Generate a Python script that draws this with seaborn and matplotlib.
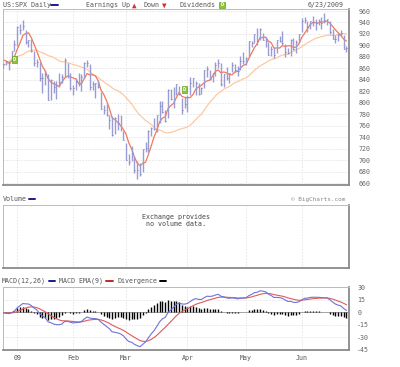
import numpy as np
import pandas as pd
import matplotlib
matplotlib.use("Agg")
import matplotlib.pyplot as plt
from matplotlib.lines import Line2D
import seaborn as sns

# ---------------- data ----------------
dates = ["2008-12-24", "2008-12-26", "2008-12-29", "2008-12-30", "2008-12-31",
         "2009-01-02", "2009-01-05", "2009-01-06", "2009-01-07", "2009-01-08", "2009-01-09",
         "2009-01-12", "2009-01-13", "2009-01-14", "2009-01-15", "2009-01-16",
         "2009-01-20", "2009-01-21", "2009-01-22", "2009-01-23",
         "2009-01-26", "2009-01-27", "2009-01-28", "2009-01-29", "2009-01-30",
         "2009-02-02", "2009-02-03", "2009-02-04", "2009-02-05", "2009-02-06",
         "2009-02-09", "2009-02-10", "2009-02-11", "2009-02-12", "2009-02-13",
         "2009-02-17", "2009-02-18", "2009-02-19", "2009-02-20",
         "2009-02-23", "2009-02-24", "2009-02-25", "2009-02-26", "2009-02-27",
         "2009-03-02", "2009-03-03", "2009-03-04", "2009-03-05", "2009-03-06",
         "2009-03-09", "2009-03-10", "2009-03-11", "2009-03-12", "2009-03-13",
         "2009-03-16", "2009-03-17", "2009-03-18", "2009-03-19", "2009-03-20",
         "2009-03-23", "2009-03-24", "2009-03-25", "2009-03-26", "2009-03-27",
         "2009-03-30", "2009-03-31",
         "2009-04-01", "2009-04-02", "2009-04-03",
         "2009-04-06", "2009-04-07", "2009-04-08", "2009-04-09",
         "2009-04-13", "2009-04-14", "2009-04-15", "2009-04-16", "2009-04-17",
         "2009-04-20", "2009-04-21", "2009-04-22", "2009-04-23", "2009-04-24",
         "2009-04-27", "2009-04-28", "2009-04-29", "2009-04-30",
         "2009-05-01", "2009-05-04", "2009-05-05", "2009-05-06", "2009-05-07", "2009-05-08",
         "2009-05-11", "2009-05-12", "2009-05-13", "2009-05-14", "2009-05-15",
         "2009-05-18", "2009-05-19", "2009-05-20", "2009-05-21", "2009-05-22",
         "2009-05-26", "2009-05-27", "2009-05-28", "2009-05-29",
         "2009-06-01", "2009-06-02", "2009-06-03", "2009-06-04", "2009-06-05",
         "2009-06-08", "2009-06-09", "2009-06-10", "2009-06-11", "2009-06-12",
         "2009-06-15", "2009-06-16", "2009-06-17", "2009-06-18", "2009-06-19",
         "2009-06-22", "2009-06-23"]

highs = [869.8, 873.7, 873.7, 891.1, 910.3,
         934.7, 936.6, 943.9, 927.5, 910.0, 911.9,
         890.4, 877.0, 871.8, 851.6, 858.1,
         849.6, 841.7, 838.2, 838.2,
         852.5, 850.5, 877.9, 868.9, 851.7,
         830.8, 842.6, 851.9, 850.6, 870.8,
         875.0, 868.1, 838.2, 835.5, 839.4,
         818.6, 796.2, 797.6, 778.7,
         777.9, 775.5, 780.1, 779.4, 751.3,
         729.6, 711.7, 724.1, 708.3, 699.1,
         695.3, 719.6, 731.9, 752.6, 758.3,
         774.5, 778.1, 803.0, 803.2, 788.1,
         823.4, 823.7, 826.8, 833.0, 828.7,
         809.1, 810.5,
         813.6, 845.6, 842.6,
         838.7, 835.5, 828.4, 856.9,
         864.3, 856.6, 852.9, 870.4, 875.6,
         869.6, 850.1, 861.8, 852.9, 871.8,
         868.3, 864.5, 882.1, 888.7,
         880.5, 907.9, 907.7, 920.3, 929.6, 930.2,
         922.0, 915.6, 905.4, 898.4, 897.0,
         910.0, 916.4, 924.6, 903.4, 896.3,
         911.8, 913.8, 909.5, 920.0,
         947.8, 949.4, 942.5, 942.5, 951.7,
         946.3, 946.3, 949.8, 956.2, 946.3,
         942.5, 928.0, 918.4, 921.9, 927.1,
         918.1, 898.7]

lows = [861.4, 866.5, 857.1, 870.6, 889.7,
        899.4, 919.5, 927.3, 902.4, 896.8, 888.3,
        864.3, 862.0, 838.6, 817.0, 830.7,
        804.5, 804.3, 817.1, 806.1,
        827.7, 835.4, 845.7, 844.2, 821.7,
        812.9, 822.0, 829.2, 819.9, 843.8,
        861.7, 823.0, 822.3, 808.1, 825.2,
        789.2, 780.4, 777.0, 754.3,
        742.4, 745.0, 752.9, 751.8, 734.5,
        699.7, 692.3, 699.0, 677.9, 666.8,
        672.9, 679.3, 713.9, 714.8, 742.5,
        753.4, 749.9, 765.6, 781.8, 766.2,
        772.9, 805.5, 791.4, 814.3, 813.4,
        779.8, 790.9,
        783.3, 814.5, 826.8,
        814.1, 814.0, 814.8, 826.3,
        845.4, 840.2, 835.6, 847.0, 860.9,
        829.8, 826.8, 840.6, 835.5, 853.9,
        853.0, 847.1, 856.9, 868.5,
        866.1, 879.2, 897.3, 904.0, 901.4, 909.0,
        908.7, 896.5, 882.8, 882.5, 878.9,
        886.1, 905.2, 901.4, 879.6, 884.8,
        881.5, 891.9, 887.6, 903.6,
        923.3, 938.5, 923.9, 929.3, 934.1,
        926.7, 935.7, 928.0, 939.0, 935.7,
        919.7, 911.6, 903.8, 907.9, 915.8,
        893.0, 888.9]

closes = [868.2, 872.8, 869.4, 890.6, 903.3,
          931.8, 927.5, 934.7, 906.7, 909.7, 890.4,
          870.3, 871.8, 842.6, 843.7, 850.1,
          805.2, 840.2, 827.5, 832.0,
          836.6, 845.7, 874.1, 845.1, 825.9,
          825.4, 838.5, 832.2, 845.9, 868.6,
          869.9, 827.2, 833.7, 835.2, 826.8,
          789.2, 788.4, 778.9, 770.1,
          743.3, 773.1, 764.9, 752.8, 735.1,
          700.8, 696.3, 712.9, 682.6, 683.4,
          676.5, 719.6, 721.4, 750.7, 756.6,
          753.9, 778.1, 794.4, 784.0, 768.5,
          822.9, 806.1, 813.9, 832.9, 815.9,
          787.5, 797.9,
          811.1, 834.4, 842.5,
          835.5, 815.6, 825.2, 856.6,
          858.7, 841.5, 852.1, 865.3, 869.6,
          832.4, 850.1, 843.6, 851.9, 866.2,
          857.5, 855.2, 873.6, 872.8,
          877.5, 907.2, 903.8, 919.5, 907.4, 929.2,
          909.2, 908.4, 883.9, 893.1, 882.9,
          909.7, 908.1, 903.5, 888.3, 887.0,
          910.3, 893.1, 906.8, 919.1,
          942.9, 944.7, 931.8, 942.5, 940.1,
          939.1, 942.4, 939.2, 944.9, 946.2,
          923.7, 912.0, 910.7, 918.4, 921.2,
          893.0, 895.1]

# closes before the visible window (only feed the moving averages / MACD)
warmup_closes = [1003.4, 998.0, 907.8, 946.4, 940.6, 985.4, 955.1, 896.8, 908.1,
                 876.8, 848.9, 940.5, 930.1, 954.1, 968.8,
                 966.3, 1005.8, 952.8, 904.9, 931.0, 919.2, 899.0, 852.3, 911.3,
                 873.3, 850.8, 859.1, 806.6, 752.4, 800.0, 851.8, 857.4, 887.7, 896.2,
                 816.2, 848.8, 870.7, 845.2, 876.1, 909.7, 888.7, 899.2, 873.6,
                 879.7, 868.6, 913.2, 904.4, 885.3, 887.9, 871.6, 863.2]

month_dates = ["2009-01-02", "2009-02-02", "2009-03-02", "2009-04-01", "2009-05-01", "2009-06-01"]
month_labels = ["09", "Feb", "Mar", "Apr", "May", "Jun"]
price_ticks = [660, 680, 700, 720, 740, 760, 780, 800, 820, 840, 860, 880, 900, 920, 940, 960]
macd_ticks = [30, 15, 0, -15, -30, -45]
macd_tick_labels = ["30", "15", "0", "-15", "-30", "-45"]
dividend_dates = ["2008-12-31", "2009-03-31"]
dividend_levels = [875, 823]

short_window = 5
long_window = 25

# ---------------- indicators ----------------
n = len(closes)
xs = np.arange(n)
full = pd.Series(warmup_closes + closes, dtype=float)
ma_short = full.rolling(short_window).mean().to_numpy()[-n:]
ma_long = full.rolling(long_window).mean().to_numpy()[-n:]
ema12 = full.ewm(span=12, adjust=True).mean()
ema26 = full.ewm(span=26, adjust=True).mean()
macd_full = ema12 - ema26
signal_full = macd_full.ewm(span=9, adjust=True).mean()
macd = macd_full.to_numpy()[-n:]
signal = signal_full.to_numpy()[-n:]
diverg = macd - signal

month_pos = [dates.index(d) for d in month_dates]

# ---------------- figure ----------------
sns.set_style("white")
plt.rcParams['font.family'] = ['DejaVu Sans Mono', 'DejaVu Sans']
W, H = 400, 367
fig = plt.figure(figsize=(W / 100, H / 100), dpi=100)
fig.patch.set_facecolor("white")

FS = 4.8
TXT = "#555555"


def px_axes(l, t, r, b):
    return fig.add_axes([l / W, 1 - b / H, (r - l) / W, (b - t) / H])


def style_box(ax):
    for s in ["left", "top"]:
        ax.spines[s].set_color("#bbbbbb")
        ax.spines[s].set_linewidth(0.7)
    for s in ["right", "bottom"]:
        ax.spines[s].set_color("#8a8a8a")
        ax.spines[s].set_linewidth(1.3)


def ftext(x, y, s, **kw):
    kw.setdefault("fontsize", FS)
    kw.setdefault("color", TXT)
    kw.setdefault("va", "center")
    fig.text(x / W, 1 - y / H, s, **kw)


def swatch(x1, x2, y, color, lw=1.4):
    fig.add_artist(Line2D([x1 / W, x2 / W], [1 - y / H, 1 - y / H],
                          transform=fig.transFigure, color=color, lw=lw))


XL = (-0.3, 123.9)
grid_kw = dict(color="#e4e4e4", lw=0.6, ls=(0, (2, 1.5)))

# ---- price panel ----
ax = px_axes(2.5, 9, 349, 185)
ax.set_xlim(*XL)
ax.set_ylim(657, 963.5)
ax.set_yticks(price_ticks)
ax.set_yticklabels([str(t) for t in price_ticks])
ax.set_xticks(month_pos)
ax.set_xticklabels([])
ax.tick_params(axis="y", labelleft=False, labelright=True, length=0, pad=7,
               labelsize=FS, labelcolor="#666666")
ax.tick_params(axis="x", length=0)
ax.grid(True, **grid_kw)
ax.set_axisbelow(True)
style_box(ax)

sns.lineplot(x=xs, y=ma_long, ax=ax, color="#fdc9a2", lw=0.9, legend=False)
sns.lineplot(x=xs, y=ma_short, ax=ax, color="#f2785a", lw=0.9, legend=False)
ax.vlines(xs, lows, highs, color="#9c9cd4", lw=1.0, zorder=3)
ax.hlines(closes, xs, xs + 0.35, color="#7a7ab8", lw=0.7, zorder=3)
for d, lv in zip(dividend_dates, dividend_levels):
    ax.text(dates.index(d), lv, "D", ha="center", va="center", fontsize=3.8,
            color="white", fontweight="bold", zorder=5,
            bbox=dict(boxstyle="square,pad=0.18", fc="#8cc43c", ec="#6b9e2a", lw=0.5))
ax.set_xlabel("")
ax.set_ylabel("")

# header
ftext(3, 5, "US:SPX Daily")
swatch(51, 58, 5, "#1a1a8c")
ftext(86, 5, "Earnings Up")
ftext(131.5, 5, "▲", color="#cc3333", fontsize=5.5)
ftext(144, 5, "Down")
ftext(161.5, 5, "▼", color="#cc3333", fontsize=5.5)
ftext(179, 5, "Dividends")
fig.text(222 / W, 1 - 5 / H, "D", ha="center", va="center", fontsize=3.8,
         color="white", fontweight="bold",
         bbox=dict(boxstyle="square,pad=0.18", fc="#8cc43c", ec="#6b9e2a", lw=0.5))
ftext(344, 5, "6/23/2009", ha="right")

# ---- volume panel ----
axv = px_axes(2.5, 204.5, 349, 267.5)
axv.set_xlim(*XL)
axv.set_ylim(0, 1)
axv.set_xticks(month_pos)
axv.set_xticklabels([])
axv.set_yticks([])
axv.tick_params(length=0)
axv.grid(True, axis="x", **grid_kw)
style_box(axv)
axv.text(0.5, 0.745, "Exchange provides\nno volume data.", transform=axv.transAxes,
         ha="center", va="center", fontsize=FS, color="#444444", linespacing=1.2)
ftext(3, 199, "Volume")
swatch(29, 35, 199, "#1a1a8c")
ftext(345, 199, "© BigCharts.com", ha="right", fontsize=4.3, color="#888888")

# ---- MACD panel ----
axm = px_axes(2.5, 287.3, 349, 350)
axm.set_xlim(*XL)
axm.set_ylim(-45.6, 30.0)
axm.set_yticks(macd_ticks)
axm.set_yticklabels(macd_tick_labels)
axm.set_xticks(month_pos)
axm.set_xticklabels(month_labels)
axm.tick_params(axis="y", labelleft=False, labelright=True, length=0, pad=6,
                labelsize=FS, labelcolor="#666666")
axm.tick_params(axis="x", length=0, pad=3.5, labelsize=FS, labelcolor="#555555")
axm.grid(True, **grid_kw)
axm.set_axisbelow(True)
style_box(axm)
axm.axhline(0, color="#999999", lw=0.6, zorder=1)
axm.vlines(xs, 0, diverg, color="black", lw=1.0, zorder=3)
sns.lineplot(x=xs, y=signal, ax=axm, color="#e05a5a", lw=0.8, legend=False, zorder=4)
sns.lineplot(x=xs, y=macd, ax=axm, color="#7272d6", lw=0.8, legend=False, zorder=4)
axm.set_xlabel("")
axm.set_ylabel("")

ftext(2, 281, "MACD(12,26)")
swatch(49, 55, 281, "#1a1a8c")
ftext(59, 281, "MACD EMA(9)")
swatch(106, 113, 281, "#cc2222")
ftext(117, 281, "Divergence")
swatch(160, 166, 281, "black")

fig.savefig("out.png", dpi=100, facecolor="white")
